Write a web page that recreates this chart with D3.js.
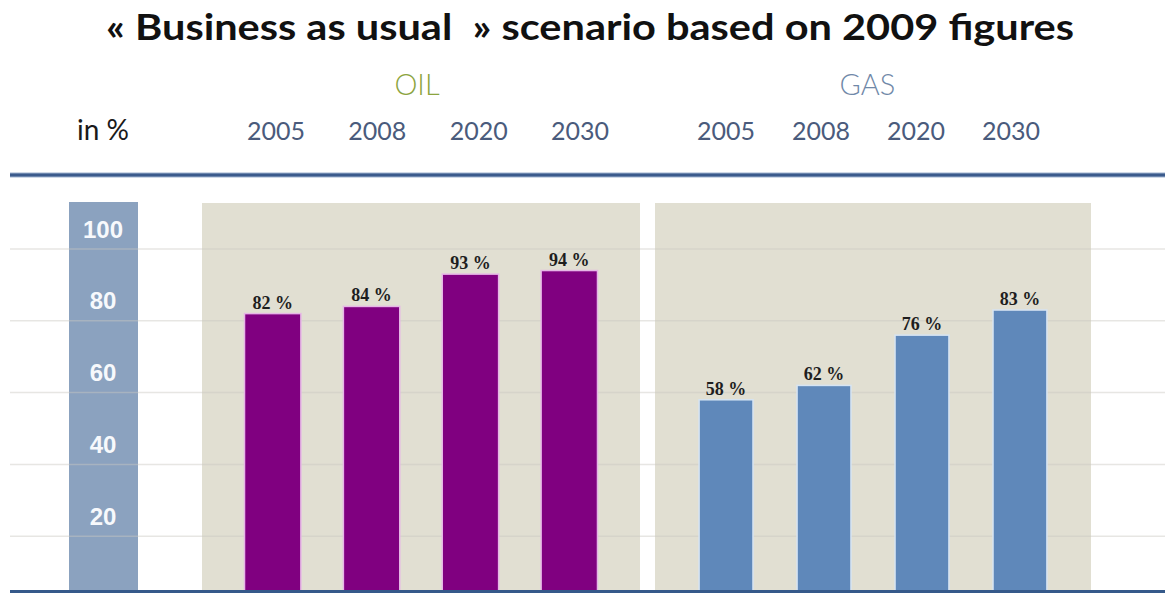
<!DOCTYPE html>
<html>
<head>
<meta charset="utf-8">
<script src="https://cdn.jsdelivr.net/npm/d3@7"></script>
<style>
  html, body { margin: 0; padding: 0; background: #fff; }
  svg { display: block; }
</style>
</head>
<body>
<svg id="chart" width="1165" height="593"></svg>
<script>
// Import dependency ratios, in % of consumption
const years = ["2005", "2008", "2020", "2030"];
const oilShare = [82, 84, 93, 94];
const gasShare = [58, 62, 76, 83];
const groupNames = ["OIL", "GAS"];
const yTicks = [20, 40, 60, 80, 100];
const titleText = "« Business as usual  » scenario based on 2009 figures";
const unitLabel = "in %";

const W = 1165, H = 593;
const plotTop = 202, plotBottom = 590;

const svg = d3.select("#chart");

// value scale (the zero line sits just below the visible frame)
const y = d3.scaleLinear().domain([0, 100]).range([608, 249]);

// one band scale per group panel
const panels = [
  { name: groupNames[0], values: oilShare, range: [202, 640], header: [276, 580], pad: 0.43,
    fill: "#800080", edge: "#e6b6e6", labelColor: "#8ca43e", nameShift: -11 },
  { name: groupNames[1], values: gasShare, range: [655, 1091], header: [726, 1011], pad: 0.45,
    fill: "#5f88ba", edge: "#d6e4f3", labelColor: "#7088a8", nameShift: -1 }
];

svg.append("defs").append("clipPath").attr("id", "plotClip")
  .append("rect").attr("x", 0).attr("y", plotTop).attr("width", W).attr("height", plotBottom - plotTop);

// title
svg.append("text")
  .attr("x", 106).attr("y", 40)
  .attr("font-family", "Lato, 'Liberation Sans', sans-serif")
  .attr("font-weight", 700)
  .attr("font-size", 37)
  .attr("fill", "#111")
  .attr("textLength", 968)
  .attr("lengthAdjust", "spacingAndGlyphs")
  .style("white-space", "pre")
  .text(titleText);

// unit label
svg.append("text")
  .attr("x", 77).attr("y", 140)
  .attr("font-family", "Lato, 'Open Sans', sans-serif")
  .attr("font-size", 28)
  .attr("fill", "#1a1a1a")
  .text(unitLabel);

// header rule
svg.append("line")
  .attr("x1", 10).attr("x2", W).attr("y1", 175).attr("y2", 175)
  .attr("stroke", "#9fb3cf").attr("stroke-width", 5);
svg.append("line")
  .attr("x1", 10).attr("x2", W).attr("y1", 175).attr("y2", 175)
  .attr("stroke", "#3b5b8c").attr("stroke-width", 3);

// value strip on the left
svg.append("rect")
  .attr("x", 69).attr("y", plotTop).attr("width", 69).attr("height", plotBottom - plotTop)
  .attr("fill", "#8ba2bf");

// group panels
panels.forEach(p => {
  svg.append("rect")
    .attr("x", p.range[0]).attr("y", 203)
    .attr("width", p.range[1] - p.range[0]).attr("height", plotBottom - 203)
    .attr("fill", "#e1dfd2");
});

// horizontal gridlines
svg.append("g").selectAll("line")
  .data(yTicks)
  .join("line")
  .attr("x1", 10).attr("x2", W)
  .attr("y1", d => y(d)).attr("y2", d => y(d))
  .attr("stroke", "#c9c8c0").attr("stroke-opacity", 0.45).attr("stroke-width", 1.5);

// strip labels
svg.append("g").selectAll("text")
  .data(yTicks)
  .join("text")
  .attr("x", 103).attr("y", d => y(d) - 20)
  .attr("text-anchor", "middle")
  .attr("dominant-baseline", "central")
  .attr("font-family", "'Liberation Sans', Arial, sans-serif")
  .attr("font-weight", 700)
  .attr("font-size", 24)
  .attr("fill", "#f7f9fc")
  .text(d => d);

const barsLayer = svg.append("g").attr("clip-path", "url(#plotClip)");

panels.forEach(p => {
  const x = d3.scaleBand().domain(years).range(p.range).padding(p.pad);
  const hx = d3.scalePoint().domain(years).range(p.header);
  const rows = years.map((yr, i) => ({ year: yr, value: p.values[i] }));

  // group name
  svg.append("text")
    .attr("x", (p.header[0] + p.header[1]) / 2 + p.nameShift)
    .attr("y", 95)
    .attr("text-anchor", "middle")
    .attr("font-family", "Lato, 'Open Sans', sans-serif")
    .attr("font-weight", 300)
    .attr("font-size", 29)
    .attr("fill", p.labelColor)
    .text(p.name);

  // year labels
  svg.append("g").selectAll("text")
    .data(years)
    .join("text")
    .attr("x", d => hx(d)).attr("y", 140)
    .attr("text-anchor", "middle")
    .attr("font-family", "Lato, 'Open Sans', sans-serif")
    .attr("font-size", 25)
    .attr("fill", "#4a5b7c")
    .text(d => d);

  // bars
  barsLayer.selectAll(null)
    .data(rows)
    .join("rect")
    .attr("x", d => x(d.year))
    .attr("y", d => y(d.value))
    .attr("width", x.bandwidth())
    .attr("height", d => y(0) - y(d.value))
    .attr("fill", p.fill)
    .attr("stroke", p.edge)
    .attr("stroke-width", 1.5);

  // value labels
  svg.append("g").selectAll("text")
    .data(rows)
    .join("text")
    .attr("x", d => x(d.year) + x.bandwidth() / 2)
    .attr("y", d => y(d.value) - 5)
    .attr("text-anchor", "middle")
    .attr("font-family", "'Liberation Serif', 'Times New Roman', serif")
    .attr("font-weight", 700)
    .attr("font-size", 18)
    .attr("fill", "#1e1e1e")
    .style("white-space", "pre")
    .text(d => d.value + " %");
});

// bottom rule
svg.append("line")
  .attr("x1", 10).attr("x2", W).attr("y1", 591.5).attr("y2", 591.5)
  .attr("stroke", "#35598a").attr("stroke-width", 3);
</script>
</body>
</html>
